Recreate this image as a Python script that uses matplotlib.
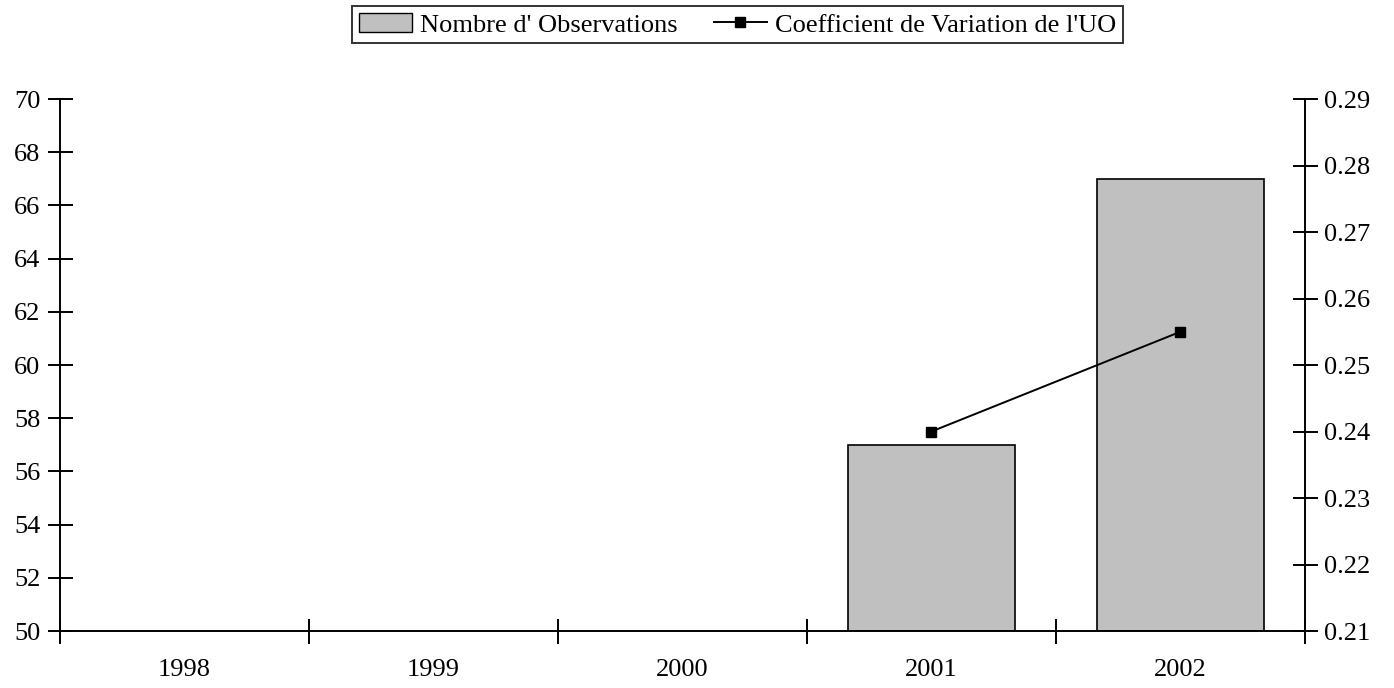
import matplotlib

matplotlib.use("Agg")
import matplotlib.pyplot as plt
import numpy as np
from matplotlib.lines import Line2D
from matplotlib.patches import Patch

years = ["1998", "1999", "2000", "2001", "2002"]
n_obs = [np.nan, np.nan, np.nan, 57, 67]
coef_var = [np.nan, np.nan, np.nan, 0.24, 0.255]

plt.rcParams["font.family"] = ["Liberation Serif", "DejaVu Serif"]
plt.rcParams["font.size"] = 19

fig = plt.figure(figsize=(13.94, 6.88), dpi=100)
ax = fig.add_axes([0.043, 0.0828, 0.893, 0.7732])
x = np.arange(len(years))

obs = np.array(n_obs, dtype=float)
has = ~np.isnan(obs)
ax.bar(x[has], obs[has] - 50, bottom=50, width=0.67,
       color="#C0C0C0", edgecolor="black", linewidth=1.2)
ax.set_xlim(-0.5, len(years) - 0.5)
ax.set_ylim(50, 70)
ax.set_yticks(np.arange(50, 71, 2))
ax.set_xticks(x)
ax.set_xticklabels(years)
ax.set_xticks(np.arange(-0.5, len(years), 1), minor=True)
ax.tick_params(axis="x", which="major", length=0, pad=20)
ax.tick_params(axis="x", which="minor", direction="inout", length=18, width=1.4)
ax.tick_params(axis="y", direction="inout", length=18, width=1.4, pad=5)
for s in ["top", "right"]:
    ax.spines[s].set_visible(False)
for s in ["left", "bottom"]:
    ax.spines[s].set_linewidth(1.4)

ax2 = ax.twinx()
ax2.plot(x, coef_var, color="black", lw=1.4, marker="s", ms=7.5)
ax2.set_ylim(0.21, 0.29)
ax2.set_yticks(np.arange(0.21, 0.2901, 0.01))
ax2.set_yticklabels([f"{v:.2f}" for v in np.arange(0.21, 0.2901, 0.01)])
ax2.tick_params(axis="y", direction="inout", length=18, width=1.4, pad=5)
for s in ["top", "left", "bottom"]:
    ax2.spines[s].set_visible(False)
ax2.spines["right"].set_linewidth(1.4)

handles = [
    Patch(facecolor="#C0C0C0", edgecolor="black", label="Nombre d' Observations"),
    Line2D([0], [0], color="black", lw=1.4, marker="s", ms=7.5,
           label="Coefficient de Variation de l'UO"),
]
leg = fig.legend(handles=handles, loc="center", bbox_to_anchor=(0.529, 0.964), ncol=2,
                 frameon=True, fancybox=False, edgecolor="black", handlelength=2.0,
                 handletextpad=0.3, columnspacing=1.4, borderpad=0.25,
                 borderaxespad=0.0)
leg.get_frame().set_linewidth(1.4)

fig.savefig("out.png", dpi=100)
